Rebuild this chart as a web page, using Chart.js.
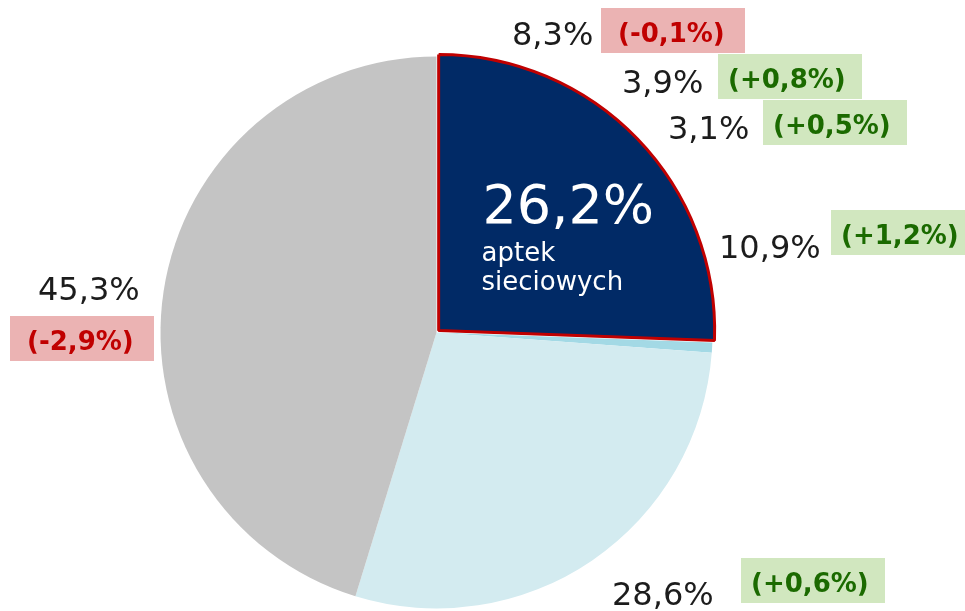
<!DOCTYPE html>
<html>
<head>
<meta charset="utf-8">
<script src="https://cdn.jsdelivr.net/npm/chart.js@4/dist/chart.umd.min.js"></script>
<style>
  html, body { margin: 0; padding: 0; background: #fff; }
  #wrap { width: 965px; height: 611px; }
</style>
</head>
<body>
<div id="wrap"><canvas id="pie" width="965" height="611"></canvas></div>
<script>
// slices, clockwise from 12 o'clock
const sliceNames = ['aptek sieciowych', 'pozostałe sieciowe', 'grupy apteczne', 'apteki indywidualne'];
const sliceValues = [25.6, 0.6, 28.6, 45.3];
const sliceColors = ['#012a66', '#a3d9e5', '#d3ebf0', '#c4c4c4'];

// share labels and year-on-year change
const shareLabels = ['8,3%', '3,9%', '3,1%', '10,9%', '45,3%', '28,6%'];
const changeLabels = ['(-0,1%)', '(+0,8%)', '(+0,5%)', '(+1,2%)', '(-2,9%)', '(+0,6%)'];
const centerValue = '26,2%';
const centerText = ['aptek', 'sieciowych'];

// label placement: [share x, share baseline, badge x, badge y, badge width]
const labelSpots = [
  [512, 45, 601, 8, 144],
  [622, 93, 718, 54, 144],
  [668, 139, 763, 100, 144],
  [719, 258, 831, 210, 134],
  [38, 300, 10, 316, 144],
  [612, 605, 741, 558, 144]
];

const canvas = document.getElementById('pie');

const labelPlugin = {
  id: 'labels',
  afterDraw(chart) {
    const ctx = chart.ctx;
    const arc = chart.getDatasetMeta(0).data[0];
    ctx.save();

    // text inside the highlighted slice
    ctx.fillStyle = '#ffffff';
    ctx.textAlign = 'left';
    ctx.textBaseline = 'alphabetic';
    ctx.font = '54px "DejaVu Sans"';
    ctx.fillText(centerValue, arc.x + 46, arc.y - 110);
    ctx.font = '26px "DejaVu Sans"';
    ctx.fillText(centerText[0], arc.x + 45, arc.y - 72);
    ctx.fillText(centerText[1], arc.x + 45, arc.y - 43);

    shareLabels.forEach((txt, i) => {
      const [sx, sy, bx, by, bw] = labelSpots[i];
      ctx.fillStyle = '#1c1c1c';
      ctx.textAlign = 'left';
      ctx.textBaseline = 'alphabetic';
      ctx.font = '32px "DejaVu Sans"';
      ctx.fillText(txt, sx, sy);

      const neg = changeLabels[i].indexOf('-') >= 0;
      ctx.fillStyle = neg ? '#ebb3b3' : '#d1e7bf';
      ctx.fillRect(bx, by, bw, 45);
      ctx.fillStyle = neg ? '#c00000' : '#1b6a00';
      ctx.font = 'bold 26px "DejaVu Sans"';
      ctx.fillText(changeLabels[i], bx + (neg ? 17 : 10), by + 34);
    });
    ctx.restore();
  }
};

new Chart(canvas, {
  type: 'pie',
  data: {
    labels: sliceNames,
    datasets: [{
      data: sliceValues,
      backgroundColor: sliceColors,
      borderColor: ['#c00000', '#ffffff', '#ffffff', '#ffffff'],
      borderWidth: [3, 0, 0, 0],
      offset: [12, 0, 0, 0]
    }]
  },
  options: {
    responsive: false,
    animation: false,
    devicePixelRatio: 1,
    radius: 276,
    layout: { padding: { left: 0, right: 92, top: 54, bottom: 0 } },
    plugins: {
      legend: { display: false },
      tooltip: { enabled: false }
    }
  },
  plugins: [labelPlugin]
});
</script>
</body>
</html>
